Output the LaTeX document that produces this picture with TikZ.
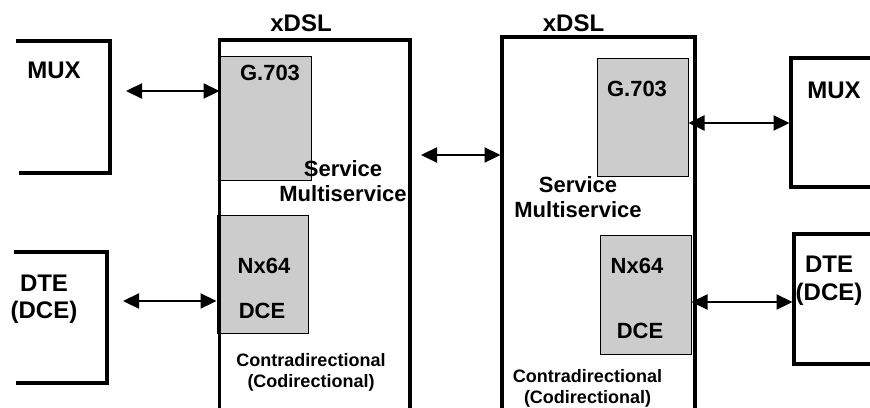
\documentclass[tikz,border=0pt]{standalone}
\usepackage{fontspec}
\setmainfont{Liberation Sans}
\usetikzlibrary{arrows.meta}
\begin{document}
\begin{tikzpicture}[x=1pt,y=-1pt,
  outer/.style={line width=3.3pt,line join=miter},
  graybox/.style={draw=black,line width=1pt,fill={rgb,255:red,204;green,204;blue,204},inner sep=0pt},
  biarrow/.style={line width=2.2pt,{Triangle[length=16pt,width=15pt]}-{Triangle[length=16pt,width=15pt]}},
  big/.style={font=\fontsize{24}{26}\selectfont\bfseries,inner sep=0pt,anchor=base},
  mid/.style={font=\fontsize{22}{24}\selectfont\bfseries,inner sep=0pt,anchor=base},
  small/.style={font=\fontsize{18}{20}\selectfont\bfseries,inner sep=0pt,anchor=base}]
\useasboundingbox[fill=white] (0,0) rectangle (870,407);
% gray boxes
\node[graybox,minimum width=91pt,minimum height=124pt] (g1) at (265.5,118) {};
\node[graybox,minimum width=91pt,minimum height=118pt] (n1) at (262.5,274) {};
\node[graybox,minimum width=91pt,minimum height=118pt] (g2) at (642.5,117) {};
\node[graybox,minimum width=91pt,minimum height=119pt] (n2) at (645.5,294.5) {};
% outer boxes
\draw[outer] (16,41) -- (110,41) -- (110,173) -- (19,173);
\draw[outer] (14,252) -- (107,252) -- (107,383) -- (16,383);
\draw[outer] (219.5,410) -- (219.5,40) -- (410,40) -- (410,410);
\draw[outer] (502,410) -- (502,37) -- (695,37) -- (695,410);
\draw[outer] (875,58) -- (791,58) -- (791,187) -- (875,187);
\draw[outer] (875,234) -- (794,234) -- (794,364) -- (875,364);
% named points
\coordinate (mux1) at (126,91);
\coordinate (dte1) at (123,301);
\coordinate (x1r) at (421,155);
\coordinate (x2l) at (500.5,155);
\coordinate (mux2) at (789.5,123);
\coordinate (dte2) at (792.5,302);
% arrows
\draw[biarrow] (mux1) -- (g1.west |- mux1);
\draw[biarrow] (dte1) -- (n1.west |- dte1);
\draw[biarrow] (x1r) -- (x2l);
\draw[biarrow] (mux2 -| g2.east) -- (mux2);
\draw[biarrow] (dte2 -| n2.east) -- (dte2);
% texts
\node[big] (t1) at (301,31.7) {xDSL};
\node[big] (t2) at (573.5,31.7) {xDSL};
\node[big] (t3) at (54,78) {MUX};
\node[big] (t4) at (834,98) {MUX};
\node[big] (t5) at (44,291) {DTE};
\node[big] (t6) at (44,318) {(DCE)};
\node[big] (t7) at (829,272) {DTE};
\node[big] (t8) at (829,300) {(DCE)};
\node[mid] (t9) at (270,80) {G.703};
\node[mid] (t10) at (637,96.7) {G.703};
\node[mid] (t11) at (343,176) {Service};
\node[mid] (t12) at (343,201.7) {Multiservice};
\node[mid] (t13) at (578,192) {Service};
\node[mid] (t14) at (578,217) {Multiservice};
\node[mid] (t15) at (264,273) {Nx64};
\node[mid] (t16) at (262,318) {DCE};
\node[mid] (t17) at (637,273) {Nx64};
\node[mid] (t18) at (640,338) {DCE};
\node[small] (t19) at (311,366) {Contradirectional};
\node[small] (t20) at (311,387) {(Codirectional)};
\node[small] (t21) at (587.5,382) {Contradirectional};
\node[small] (t22) at (587.5,403) {(Codirectional)};
\end{tikzpicture}
\end{document}
